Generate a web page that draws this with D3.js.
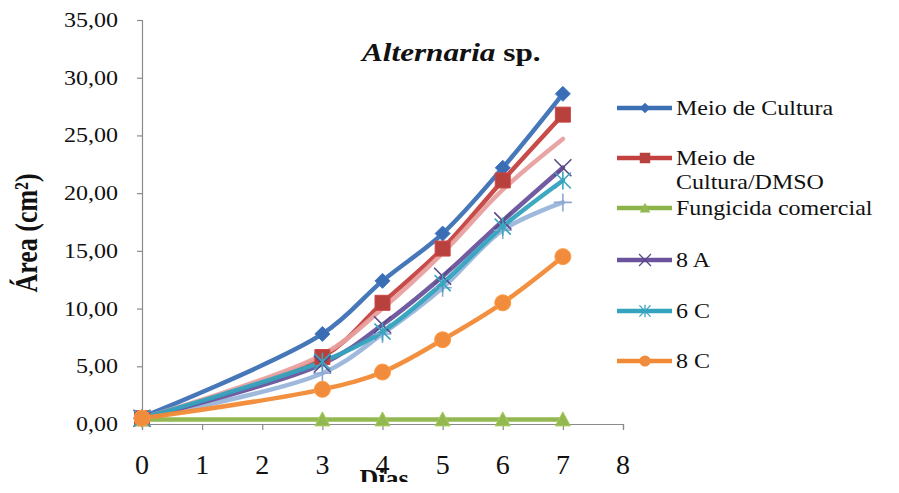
<!DOCTYPE html>
<html><head><meta charset="utf-8">
<script src="https://cdn.jsdelivr.net/npm/d3@7"></script>
<style>html,body{margin:0;padding:0;background:#fff;}svg{display:block;}</style>
</head><body>
<svg id="chart" width="899" height="493"></svg>
<script>
const days = [0, 3, 4, 5, 6, 7];
const meioCultura = [0.6, 7.8, 12.4, 16.5, 22.2, 28.6];
const meioDMSO = [0.5, 5.8, 10.5, 15.2, 21.1, 26.8];
const fungicida = [0.4, 0.4, 0.4, 0.4, 0.4, 0.4];
const s8A = [0.5, 5.2, 8.6, 12.8, 17.6, 22.2];
const s6C = [0.5, 5.4, 8.0, 12.2, 17.1, 21.1];
const s8C = [0.5, 3.0, 4.5, 7.3, 10.5, 14.5];
const extraPink = [0.5, 6.0, 10.0, 14.8, 20.3, 24.7];
const extraLight = [0.5, 4.4, 7.8, 11.8, 16.8, 19.2];
const xTicks = [0, 1, 2, 3, 4, 5, 6, 7, 8];
const yTicks = [0, 5, 10, 15, 20, 25, 30, 35];
const legendNames = ["Meio de Cultura", "Meio de\nCultura/DMSO", "Fungicida comercial", "8 A", "6 C", "8 C"];

const series = [
  {name: null, values: extraLight, color: "#9AB5DA", mcolor: "#8EA8D4", marker: "plus"},
  {name: legendNames[0], values: meioCultura, color: "#3C70B5", mcolor: "#3A6DB3", marker: "diamond"},
  {name: legendNames[1], values: meioDMSO, color: "#C4413F", mcolor: "#B8403D", marker: "square"},
  {name: null, values: extraPink, color: "#E8A09E", mcolor: null, marker: null},
  {name: legendNames[2], values: fungicida, color: "#8DB448", mcolor: "#93B852", marker: "triangle"},
  {name: legendNames[3], values: s8A, color: "#6A539C", mcolor: "#5A4886", marker: "x"},
  {name: legendNames[4], values: s6C, color: "#34A3BE", mcolor: "#3AA4C0", marker: "asterisk"},
  {name: legendNames[5], values: s8C, color: "#F28A35", mcolor: "#F08C3C", marker: "circle"}
];

const svg = d3.select("#chart");
const font = "'Liberation Serif','Times New Roman',serif";
const x = d3.scaleLinear().domain([0, 8]).range([142, 623]);
const y = d3.scaleLinear().domain([0, 35]).range([424, 20]);

function markerPath(type, s) {
  const k = s || 1;
  switch (type) {
    case "diamond": return `M0,${-7.5*k}L${7.5*k},0L0,${7.5*k}L${-7.5*k},0Z`;
    case "square": return `M${-7.5*k},${-7.5*k}h${15*k}v${15*k}h${-15*k}Z`;
    case "triangle": return `M0,${-7.5*k}L${7.5*k},${6.5*k}L${-7.5*k},${6.5*k}Z`;
    case "circle": return d3.arc()({innerRadius: 0, outerRadius: 8*k, startAngle: 0, endAngle: 2*Math.PI});
    case "x": return `M${-8.5*k},${-8.5*k}L${8.5*k},${8.5*k}M${-8.5*k},${8.5*k}L${8.5*k},${-8.5*k}`;
    case "asterisk": return `M${-8*k},${-8*k}L${8*k},${8*k}M${-8*k},${8*k}L${8*k},${-8*k}M0,${-9*k}L0,${9*k}`;
    case "plus": return `M${-9*k},0L${9*k},0M0,${-9*k}L0,${9*k}`;
  }
  return "";
}
const filled = t => ["diamond", "square", "triangle", "circle"].includes(t);

// axes
const gx = svg.append("g").attr("transform", "translate(0,424)")
  .call(d3.axisBottom(x).tickValues(xTicks).tickSize(6).tickFormat(""));
const gy = svg.append("g").attr("transform", "translate(142,0)")
  .call(d3.axisLeft(y).tickValues(yTicks).tickSize(5).tickFormat(""));
[gx, gy].forEach(g => { g.selectAll("path,line").attr("stroke", "#8a8a8a").attr("stroke-width", 1.2); });

// tick labels
yTicks.forEach(v => {
  svg.append("text").attr("transform", `translate(118,${y(v) + 7}) scale(1.2,1)`)
    .attr("text-anchor", "end").attr("font-family", font).attr("font-size", 20).attr("fill", "#111")
    .text(d3.format(".2f")(v).replace(".", ","));
});
xTicks.forEach(v => {
  svg.append("text").attr("x", x(v)).attr("y", 474).attr("text-anchor", "middle")
    .attr("font-family", font).attr("font-size", 28).attr("fill", "#111").text(v);
});

// axis titles
svg.append("text").attr("transform", "translate(37,233) scale(1.2,1) rotate(-90)")
  .attr("text-anchor", "middle").attr("font-family", font).attr("font-size", 26).attr("font-weight", "bold")
  .attr("fill", "#111").text("Área (cm²)");
svg.append("clipPath").attr("id", "cut").append("rect").attr("x", 0).attr("y", 0).attr("width", 899).attr("height", 482);
svg.append("text").attr("x", 384).attr("y", 487).attr("text-anchor", "middle").attr("clip-path", "url(#cut)")
  .attr("font-family", font).attr("font-size", 26).attr("font-weight", "bold").attr("fill", "#111").text("Dias");

// title
const title = svg.append("text").attr("transform", "translate(362,61) scale(1.2,1)")
  .attr("font-family", font).attr("font-size", 26).attr("font-weight", "bold").attr("fill", "#111");
title.append("tspan").attr("font-style", "italic").text("Alternaria");
title.append("tspan").text(" sp.");

// lines
const line = d3.line().x((d, i) => x(days[i])).y(d => y(d)).curve(d3.curveCatmullRom.alpha(0.5));
series.forEach(s => {
  svg.append("path").attr("d", line(s.values)).attr("fill", "none").attr("stroke", s.color)
    .attr("stroke-width", 4.5).attr("stroke-linejoin", "round").attr("stroke-linecap", "round").attr("opacity", 0.95);
});
// markers
series.forEach(s => {
  if (!s.marker) return;
  s.values.forEach((v, i) => {
    const p = svg.append("path").attr("d", markerPath(s.marker)).attr("transform", `translate(${x(days[i])},${y(v)})`);
    if (filled(s.marker)) p.attr("fill", s.mcolor).attr("stroke", d3.color(s.mcolor).brighter(0.3)).attr("stroke-width", 1);
    else p.attr("fill", "none").attr("stroke", s.mcolor).attr("stroke-width", 1.6);
  });
});

// legend
const legendRows = [108, 158, 208, 260, 311, 361];
series.filter(s => s.name).forEach((s, i) => {
  const ly = legendRows[i];
  svg.append("line").attr("x1", 617).attr("x2", 672).attr("y1", ly).attr("y2", ly)
    .attr("stroke", s.color).attr("stroke-width", 4.5);
  const p = svg.append("path").attr("d", markerPath(s.marker, 0.7)).attr("transform", `translate(645,${ly})`);
  if (filled(s.marker)) p.attr("fill", s.mcolor);
  else p.attr("fill", "none").attr("stroke", s.mcolor).attr("stroke-width", 1.3);
  const lines = s.name.split("\n");
  lines.forEach((t, j) => {
    svg.append("text").attr("transform", `translate(676,${ly + 7 + j * 24}) scale(1.2,1)`)
      .attr("font-family", font).attr("font-size", 20).attr("fill", "#111").text(t);
  });
});
</script>
</body></html>
